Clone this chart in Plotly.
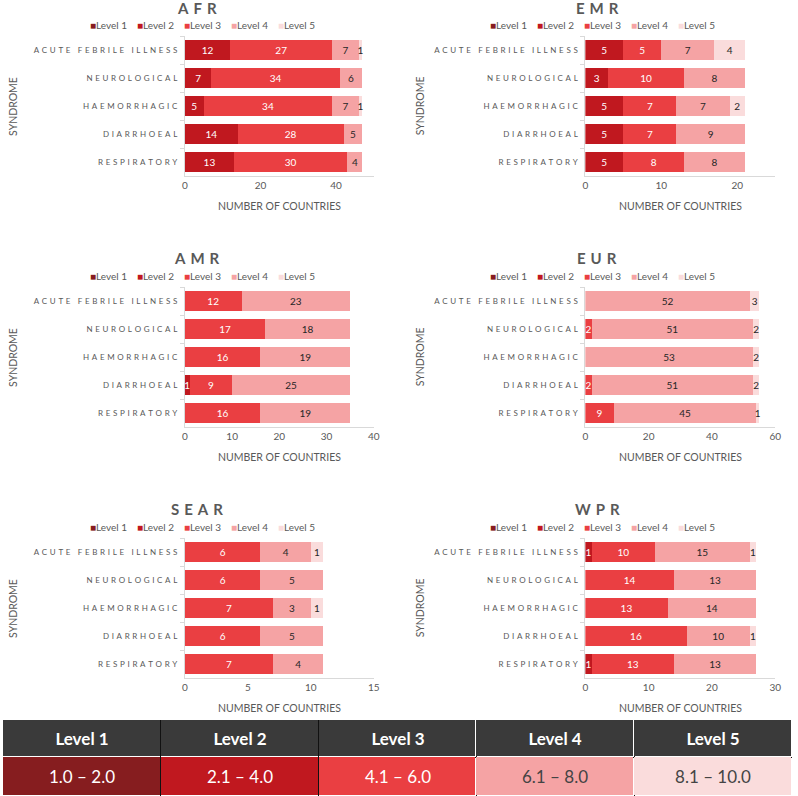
"""
Readiness levels of syndromic surveillance by WHO region - six stacked horizontal
bar panels (number of countries per level) and a level key strip underneath.
"""
import plotly.graph_objects as go

SYNDROMES = ['ACUTE FEBRILE ILLNESS', 'NEUROLOGICAL', 'HAEMORRHAGIC', 'DIARRHOEAL', 'RESPIRATORY']
LEVELS = ['Level 1', 'Level 2', 'Level 3', 'Level 4', 'Level 5']
RANGES = ['1.0 – 2.0', '2.1 – 4.0', '4.1 – 6.0', '6.1 – 8.0', '8.1 – 10.0']
REGIONS = ['AFR', 'EMR', 'AMR', 'EUR', 'SEAR', 'WPR']

# counts per level (rows) for each syndrome in the order above
AFR = [[0, 0, 0, 0, 0], [12, 7, 5, 14, 13], [27, 34, 34, 28, 30], [7, 6, 7, 5, 4], [1, 0, 1, 0, 0]]
EMR = [[0, 0, 0, 0, 0], [5, 3, 5, 5, 5], [5, 10, 7, 7, 8], [7, 8, 7, 9, 8], [4, 0, 2, 0, 0]]
AMR = [[0, 0, 0, 0, 0], [0, 0, 0, 1, 0], [12, 17, 16, 9, 16], [23, 18, 19, 25, 19], [0, 0, 0, 0, 0]]
EUR = [[0, 0, 0, 0, 0], [0, 0, 0, 0, 0], [0, 2, 0, 2, 9], [52, 51, 53, 51, 45], [3, 2, 2, 2, 1]]
SEAR = [[0, 0, 0, 0, 0], [0, 0, 0, 0, 0], [6, 6, 7, 6, 7], [4, 5, 3, 5, 4], [1, 0, 1, 0, 0]]
WPR = [[0, 0, 0, 0, 0], [1, 0, 0, 0, 1], [10, 14, 13, 16, 13], [15, 13, 14, 10, 13], [1, 0, 0, 1, 0]]
AXIS_MAX = [50, 25, 40, 60, 15, 30]
AXIS_STEP = [20, 10, 10, 20, 5, 10]

COLORS = ['#861d1f', '#c0181f', '#ea3f42', '#f5a3a4', '#fadcdc']
TEXT_COLORS = ['white', 'white', 'white', '#262626', '#262626']
HEADER = '#3a3a3a'
GREY = '#595959'
FONT = 'Lato, Open Sans, sans-serif'

W, H = 798, 796


def spaced(s):
    # mimic the letter-spaced labels of the original (three-per-em spaces)
    return '\u2004'.join(s)


def px_x(p):
    return p / W


def px_y(p):
    return 1 - p / H


# panel geometry in pixels
COLS = [(184, 375), (589, 781)]
ROWS = [(36, 176), (287, 427), (538, 678)]
TITLE_Y = [8, 258, 509]
LEGEND_Y = [25, 276, 527]
TITLE_X = [196, 601]
LEGEND_X0 = [86, 491]
LEGEND_STEP = 47.5
TABLE_TOP = 720

fig = go.Figure()
data = [AFR, EMR, AMR, EUR, SEAR, WPR]
annotations = []
layout_axes = {}

for i, (region, counts) in enumerate(zip(REGIONS, data)):
    r, c = divmod(i, 2)
    n = '' if i == 0 else str(i + 1)
    xa, ya = 'x' + n, 'y' + n
    for k, lvl in enumerate(LEVELS):
        vals = counts[k]
        fig.add_trace(go.Bar(
            y=[spaced(s) for s in SYNDROMES], x=vals, orientation='h', name=lvl,
            marker=dict(color=COLORS[k], line=dict(width=0)),
            text=[str(v) if v else '' for v in vals], textposition='inside',
            insidetextanchor='middle',
            textfont=dict(color=TEXT_COLORS[k], size=10, family=FONT),
            xaxis=xa, yaxis=ya, showlegend=False,
        ))
        # small-square key above each panel
        annotations.append(dict(
            text=f'<span style="color:{COLORS[k]};font-size:10px">■</span>{lvl}',
            x=px_x(LEGEND_X0[c] + k * LEGEND_STEP), y=px_y(LEGEND_Y[r]),
            xref='paper', yref='paper', showarrow=False, xanchor='left', yanchor='middle',
            font=dict(size=10, color=GREY, family=FONT),
        ))

    x0, x1 = COLS[c]
    y0, y1 = ROWS[r]
    layout_axes['xaxis' + n] = dict(
        domain=[px_x(x0), px_x(x1)], anchor=ya, range=[0, AXIS_MAX[i]],
        dtick=AXIS_STEP[i], showgrid=False, zeroline=False,
        showline=True, linecolor='#d9d9d9', linewidth=1,
        tickfont=dict(size=10, color=GREY, family=FONT), ticks='',
    )
    layout_axes['yaxis' + n] = dict(
        domain=[px_y(y1), px_y(y0)], anchor=xa, autorange='reversed',
        showgrid=False, zeroline=False, showline=True, linecolor='#d9d9d9',
        ticks='outside', tickson='boundaries', ticklen=4, tickcolor='#d9d9d9',
        ticklabelstandoff=5, tickfont=dict(size=8, color=GREY, family=FONT),
    )
    annotations.append(dict(
        text='<b>' + spaced(region) + '</b>', x=px_x(TITLE_X[c]), y=px_y(TITLE_Y[r]),
        xref='paper', yref='paper', showarrow=False, xanchor='center', yanchor='middle',
        font=dict(size=15, color=GREY, family=FONT),
    ))
    annotations.append(dict(
        text='NUMBER OF COUNTRIES', x=px_x((x0 + x1) / 2), y=px_y(y1 + 30),
        xref='paper', yref='paper', showarrow=False, xanchor='center', yanchor='middle',
        font=dict(size=10.5, color=GREY, family=FONT),
    ))
    annotations.append(dict(
        text='SYNDROME', x=px_x(10 if c == 0 else 422), y=px_y((y0 + y1) / 2),
        xref='paper', yref='paper', showarrow=False, textangle=-90,
        xanchor='center', yanchor='middle', font=dict(size=10.5, color=GREY, family=FONT),
    ))

# level key along the bottom: coloured range row (1..5) under a header row (0)
key_z = [[1, 2, 3, 4, 5], [0, 0, 0, 0, 0]]
key_text = [RANGES, ['<b>' + l + '</b>' for l in LEVELS]]
scale = [[0.0, HEADER], [0.1, HEADER]]
for k, col in enumerate(COLORS):
    lo = round(0.1 + 0.2 * k, 2)
    hi = round(min(0.3 + 0.2 * k, 1.0), 2)
    scale += [[lo, col], [hi, col]]
fig.add_trace(go.Heatmap(
    z=key_z, x=[0, 1, 2, 3, 4, 5], y=[0, 39, 76], text=key_text,
    texttemplate='%{text}', textfont=dict(size=17, family=FONT),
    colorscale=scale, zmin=0, zmax=5, showscale=False, hoverinfo='skip',
    xgap=1, ygap=1, xaxis='x7', yaxis='y7',
))
layout_axes['xaxis7'] = dict(
    domain=[0, 1], anchor='y7', range=[0, 5], tickvals=[1, 2, 3, 4],
    showticklabels=False, showgrid=True, gridcolor='#111111', gridwidth=1,
    zeroline=False, showline=False, ticks='',
)
layout_axes['yaxis7'] = dict(
    domain=[0, px_y(TABLE_TOP)], anchor='x7', range=[0, 76], tickvals=[39],
    showticklabels=False, showgrid=True, gridcolor='#111111', gridwidth=1,
    zeroline=False, showline=False, ticks='',
)

fig.update_layout(
    width=W, height=H, margin=dict(l=0, r=0, t=0, b=0),
    paper_bgcolor='white', plot_bgcolor='white', barmode='stack', bargap=0.3,
    uniformtext=dict(mode='show', minsize=10),
    annotations=annotations, font=dict(family=FONT, color=GREY),
    **layout_axes,
)

# pin the figure to the page origin: no body margin, no scrolling
fig.write_html(
    'out.html', config={'displayModeBar': False},
    post_script=("document.documentElement.style.overflow='hidden';"
                 "document.body.style.margin='0';document.body.style.overflow='hidden';"
                 "var g=document.getElementById('{plot_id}');"
                 "g.style.position='fixed';g.style.left='0';g.style.top='0';"),
)
